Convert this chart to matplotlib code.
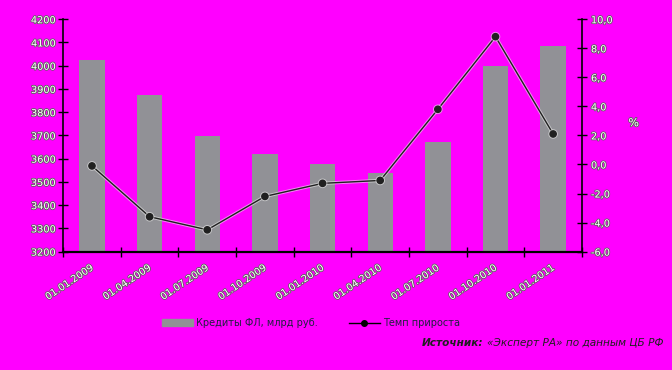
import numpy as np
import matplotlib
matplotlib.use('Agg')
import matplotlib.pyplot as plt
import matplotlib.patheffects as pe
from matplotlib.lines import Line2D
from matplotlib.patches import Patch

# данные
dates = ['01.01.2009', '01.04.2009', '01.07.2009', '01.10.2009', '01.01.2010',
         '01.04.2010', '01.07.2010', '01.10.2010', '01.01.2011']
credits = [4025, 3874, 3698, 3620, 3577, 3537, 3672, 3999, 4085]
growth = [-0.1, -3.6, -4.5, -2.2, -1.3, -1.1, 3.8, 8.8, 2.1]
left_ticks = [3200, 3300, 3400, 3500, 3600, 3700, 3800, 3900, 4000, 4100, 4200]
right_ticks = [-6, -4, -2, 0, 2, 4, 6, 8, 10]

bg = '#ff00ff'
outline = [pe.withStroke(linewidth=1.2, foreground='#606060')]

fig = plt.figure(figsize=(6.72, 3.7), dpi=100, facecolor=bg)
ax = fig.add_axes([0.094, 0.32, 0.772, 0.628])
ax.set_facecolor(bg)

x = np.arange(len(dates))
ax.bar(x, credits, width=0.44, color='#919196', zorder=2)
ax.set_xlim(-0.5, len(dates) - 0.5)
ax.set_ylim(3200, 4200)
ax.set_yticks(left_ticks)
ax.set_yticklabels([str(t) for t in left_ticks], fontsize=7, color='white',
                   path_effects=outline)
ax.set_xticks(np.arange(len(dates) + 1) - 0.5)
ax.set_xticklabels([])
ax.tick_params(axis='both', direction='inout', length=7, width=1, colors='black')
ax.tick_params(axis='y', labelcolor='white', pad=2)

# подписи дат под углом
for i, d in enumerate(dates):
    ax.annotate(d, xy=(i, 3200), xycoords='data', xytext=(-2, -8),
                textcoords='offset points', rotation=34, ha='right', va='top',
                rotation_mode='anchor', fontsize=7, color='white',
                path_effects=outline)

ax.spines['top'].set_visible(False)
ax.spines['right'].set_visible(False)
ax.spines['bottom'].set_linewidth(1.6)
ax.spines['left'].set_linewidth(1.2)

ax2 = ax.twinx()
ax2.plot(x, growth, color='#202020', lw=1, marker='o', ms=4.5, zorder=3,
         path_effects=[pe.withStroke(linewidth=2.4, foreground='#e8e8e8', alpha=0.6)])
ax2.set_ylim(-6, 10)
ax2.set_yticks(right_ticks)
ax2.set_yticklabels([('%.1f' % t).replace('.', ',') for t in right_ticks],
                    fontsize=7, color='white', path_effects=outline)
ax2.tick_params(axis='y', direction='inout', length=7, width=1, colors='black',
                labelcolor='white', pad=3)
for s in ['top', 'left', 'bottom']:
    ax2.spines[s].set_visible(False)
ax2.spines['right'].set_linewidth(1.2)
fig.text(0.943, 0.667, '%', fontsize=8, color='white', ha='center', va='center',
         path_effects=outline)

handles = [Patch(color='#919196'),
           Line2D([0], [0], color='black', lw=1, marker='o', ms=4)]
fig.legend(handles, ['Кредиты ФЛ, млрд руб.', 'Темп прироста'],
           loc='center left', bbox_to_anchor=(0.228, 0.127), ncol=2, frameon=False,
           fontsize=7, handlelength=3.2, handletextpad=0.3, columnspacing=3.2,
           labelcolor='#202040')

# источник
src = fig.text(0.987, 0.073, '«Эксперт РА» по данным ЦБ РФ', fontsize=7.6,
               style='italic', color='#202020', ha='right', va='center')
fig.canvas.draw()
bb = src.get_window_extent(fig.canvas.get_renderer())
fig.text((bb.x0 - 3) / fig.bbox.width, 0.073, 'Источник:', fontsize=7.6,
         fontweight='bold', style='italic', color='#202020', ha='right', va='center')

fig.savefig('out.png', dpi=100, facecolor=bg)
